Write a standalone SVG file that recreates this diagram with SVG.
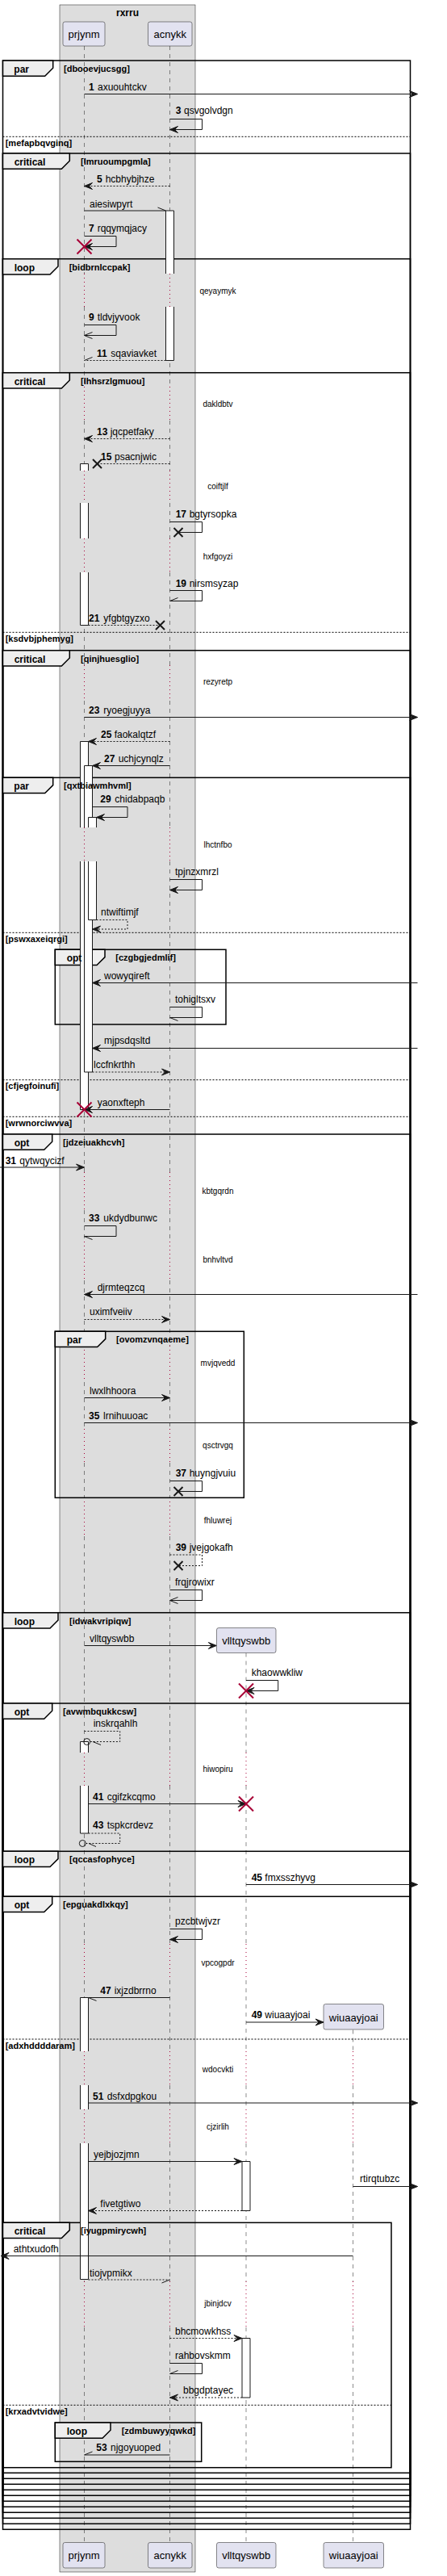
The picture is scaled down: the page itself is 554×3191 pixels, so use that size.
<svg xmlns="http://www.w3.org/2000/svg" width="554" height="3191" viewBox="0 0 554 3191">
<defs>
<style>
.t{font-family:"Liberation Sans",Arial,sans-serif;fill:#000}
.m{font-size:12px}
.b{font-weight:bold}
.g{font-size:11px;font-weight:bold}
.fl{font-size:12px;font-weight:bold}
.d{font-size:10px}
.p{font-size:13px}
.ll{fill:none;stroke:#181818;stroke-width:0.5;stroke-dasharray:5,5}
.dl{fill:none;stroke:#A80036;stroke-width:1;stroke-dasharray:1,4}
.fr{fill:none;stroke:#000;stroke-width:1.5}
.tab{fill:#EEEEEE;stroke:#000;stroke-width:1.5}
.sep{stroke:#000;stroke-width:1;stroke-dasharray:2,2}
.af{fill:#FFFFFF;stroke:none}
.as{fill:none;stroke:#181818;stroke-width:1}
.ln{fill:none;stroke:#181818;stroke-width:1}
.ds{stroke-dasharray:2,2}
.f{marker-end:url(#af)}
.o{marker-end:url(#ao)}
.ha{marker-end:url(#ha)}
.hb{marker-end:url(#hb)}
.xr{stroke:#A80036;stroke-width:2;fill:none}
.xk{stroke:#181818;stroke-width:2;fill:none}
.part{fill:#E2E2F0;stroke:#181818;stroke-width:0.5}
</style>
<marker id="af" markerWidth="12" markerHeight="10" refX="10" refY="4" orient="auto" markerUnits="userSpaceOnUse" overflow="visible"><path d="M0,0 L10,4 L0,8 L4,4 Z" fill="#181818" stroke="#181818" stroke-width="1"/></marker>
<marker id="ao" markerWidth="12" markerHeight="10" refX="10" refY="4" orient="auto" markerUnits="userSpaceOnUse" overflow="visible"><path d="M0,0 L10,4 L0,8" fill="none" stroke="#181818" stroke-width="1"/></marker>
<marker id="ha" markerWidth="12" markerHeight="10" refX="10" refY="4" orient="auto" markerUnits="userSpaceOnUse" overflow="visible"><path d="M0,0 L10,4" fill="none" stroke="#181818" stroke-width="1"/></marker>
<marker id="hb" markerWidth="12" markerHeight="10" refX="10" refY="4" orient="auto" markerUnits="userSpaceOnUse" overflow="visible"><path d="M0,8 L10,4" fill="none" stroke="#181818" stroke-width="1"/></marker>
</defs>
<rect width="554" height="3191" fill="#FFFFFF"/>
<g id="box-rxrru">
<rect x="74" y="6" width="168" height="3180" fill="#DDDDDD" stroke="#181818" stroke-width="0.5"/>
<text class="t fl" x="158" y="20" text-anchor="middle">rxrru</text>
</g>
<g id="lifelines">
<path class="ll" d="M104.5,57 V339 M104.5,380 V479 M104.5,521 V583 M104.5,623 V667 M104.5,709 V824 M104.5,868 V1025 M104.5,1067 V1452 M104.5,1499 V1538 M104.5,1586 V1667 M104.5,1712 V1770 M104.5,1812 V1855 M104.5,1903 V2171 M104.5,2212 V2408 M104.5,2453 V2541 M104.5,2583 V2613 M104.5,2655 V2826 M104.5,2883 V3149.5"/>
<path class="dl" d="M104.5,339 V380 M104.5,479 V521 M104.5,583 V623 M104.5,667 V709 M104.5,824 V868 M104.5,1025 V1067 M104.5,1452 V1499 M104.5,1538 V1586 M104.5,1667 V1712 M104.5,1770 V1812 M104.5,1855 V1903 M104.5,2171 V2212 M104.5,2408 V2453 M104.5,2541 V2583 M104.5,2613 V2655 M104.5,2826 V2883"/>
<path class="ll" d="M210.5,57 V339 M210.5,380 V479 M210.5,521 V583 M210.5,623 V667 M210.5,709 V824 M210.5,868 V1025 M210.5,1067 V1452 M210.5,1499 V1538 M210.5,1586 V1667 M210.5,1712 V1770 M210.5,1812 V1855 M210.5,1903 V2171 M210.5,2212 V2408 M210.5,2453 V2541 M210.5,2583 V2613 M210.5,2655 V2826 M210.5,2883 V3149.5"/>
<path class="dl" d="M210.5,339 V380 M210.5,479 V521 M210.5,583 V623 M210.5,667 V709 M210.5,824 V868 M210.5,1025 V1067 M210.5,1452 V1499 M210.5,1538 V1586 M210.5,1667 V1712 M210.5,1770 V1812 M210.5,1855 V1903 M210.5,2171 V2212 M210.5,2408 V2453 M210.5,2541 V2583 M210.5,2613 V2655 M210.5,2826 V2883"/>
<path class="ll" d="M305,2047.5 V2171 M305,2212 V2408 M305,2453 V2541 M305,2583 V2613 M305,2655 V2826 M305,2883 V3149.5"/>
<path class="dl" d="M305,2171 V2212 M305,2408 V2453 M305,2541 V2583 M305,2613 V2655 M305,2826 V2883"/>
<path class="ll" d="M437.5,2514.5 V2541 M437.5,2583 V2613 M437.5,2655 V2826 M437.5,2883 V3149.5"/>
<path class="dl" d="M437.5,2541 V2583 M437.5,2613 V2655 M437.5,2826 V2883"/>
</g>
<g id="frames">
<g id="frame-par-dbooevjucsgg">
<rect class="fr" x="3.5" y="75" width="505" height="3058.3"/>
<polygon class="tab" points="3.5,75 65.7,75 65.7,84.3 55.7,94.3 3.5,94.3"/>
<line class="sep" x1="3.5" y1="169.3" x2="508.5" y2="169.3"/>
</g>
<g id="frame-critical-lmruoumpgmla">
<rect class="fr" x="3.5" y="190" width="505" height="2936.3"/>
<polygon class="tab" points="3.5,190 86.3,190 86.3,199.3 76.3,209.3 3.5,209.3"/>
</g>
<g id="frame-loop-bidbrnlccpak">
<rect class="fr" x="3.5" y="320.7" width="505" height="2798.6"/>
<polygon class="tab" points="3.5,320.7 72,320.7 72,330 62,340 3.5,340"/>
</g>
<g id="frame-critical-lhhsrzlgmuou">
<rect class="fr" x="3.5" y="461.7" width="505" height="2650.6"/>
<polygon class="tab" points="3.5,461.7 86.3,461.7 86.3,471 76.3,481 3.5,481"/>
<line class="sep" x1="3.5" y1="783.3" x2="508.5" y2="783.3"/>
</g>
<g id="frame-critical-qinjhuesglio">
<rect class="fr" x="3.5" y="805.7" width="505" height="2299.6"/>
<polygon class="tab" points="3.5,805.7 86.3,805.7 86.3,815 76.3,825 3.5,825"/>
</g>
<g id="frame-par-qxtbiawmhvml">
<rect class="fr" x="3.5" y="963.3" width="505" height="2135"/>
<polygon class="tab" points="3.5,963.3 65.7,963.3 65.7,972.6 55.7,982.6 3.5,982.6"/>
<line class="sep" x1="3.5" y1="1155.3" x2="508.5" y2="1155.3"/>
<line class="sep" x1="3.5" y1="1337.7" x2="508.5" y2="1337.7"/>
<line class="sep" x1="3.5" y1="1383.3" x2="508.5" y2="1383.3"/>
</g>
<g id="frame-opt-czgbgjedmlif">
<rect class="fr" x="68.3" y="1176.3" width="211.7" height="92.7"/>
<polygon class="tab" points="68.3,1176.3 130,1176.3 130,1185.6 120,1195.6 68.3,1195.6"/>
</g>
<g id="frame-opt-jdzeiuakhcvh">
<rect class="fr" x="3.5" y="1405" width="505" height="1686.3"/>
<polygon class="tab" points="3.5,1405 64.7,1405 64.7,1414.3 54.7,1424.3 3.5,1424.3"/>
</g>
<g id="frame-par-ovomzvnqaeme">
<rect class="fr" x="68.3" y="1649.3" width="234" height="206"/>
<polygon class="tab" points="68.3,1649.3 130.7,1649.3 130.7,1658.6 120.7,1668.6 68.3,1668.6"/>
</g>
<g id="frame-loop-idwakvripiqw">
<rect class="fr" x="3.5" y="1997.7" width="505" height="1086.6"/>
<polygon class="tab" points="3.5,1997.7 72,1997.7 72,2007 62,2017 3.5,2017"/>
</g>
<g id="frame-opt-avwmbqukkcsw">
<rect class="fr" x="3.5" y="2110" width="505" height="967.3"/>
<polygon class="tab" points="3.5,2110 64.7,2110 64.7,2119.3 54.7,2129.3 3.5,2129.3"/>
</g>
<g id="frame-loop-qccasfophyce">
<rect class="fr" x="3.5" y="2293.3" width="505" height="777"/>
<polygon class="tab" points="3.5,2293.3 72,2293.3 72,2302.6 62,2312.6 3.5,2312.6"/>
</g>
<g id="frame-opt-epguakdlxkqy">
<rect class="fr" x="3.5" y="2349.3" width="505" height="714"/>
<polygon class="tab" points="3.5,2349.3 64.7,2349.3 64.7,2358.6 54.7,2368.6 3.5,2368.6"/>
<line class="sep" x1="3.5" y1="2526" x2="508.5" y2="2526"/>
</g>
<g id="frame-critical-iyugpmirycwh">
<rect class="fr" x="3.5" y="2753.3" width="481.5" height="303.4"/>
<polygon class="tab" points="3.5,2753.3 86.3,2753.3 86.3,2762.6 76.3,2772.6 3.5,2772.6"/>
<line class="sep" x1="3.5" y1="2979.3" x2="485" y2="2979.3"/>
</g>
<g id="frame-loop-zdmbuwyyqwkd">
<rect class="fr" x="68.3" y="3001" width="181.4" height="48.3"/>
<polygon class="tab" points="68.3,3001 137,3001 137,3010.3 127,3020.3 68.3,3020.3"/>
</g>
</g>
<g id="activations">
<rect class="af" x="205.5" y="261" width="10" height="78"/><path class="as" d="M205.5,339 V261 H215.5 V339"/>
<rect class="af" x="205.5" y="380" width="10" height="66.5"/><path class="as" d="M205.5,380 V446.5 H215.5 V380"/>
<rect class="af" x="99.5" y="574.5" width="10" height="8.5"/><path class="as" d="M99.5,583 V574.5 H109.5 V583"/>
<rect class="af" x="99.5" y="623" width="10" height="44"/><path class="as" d="M99.5,623 V667 M109.5,623 V667"/>
<rect class="af" x="99.5" y="709" width="10" height="65.5"/><path class="as" d="M99.5,709 V774.5 H109.5 V709"/>
<rect class="af" x="99.5" y="918.5" width="10" height="106.5"/><path class="as" d="M99.5,1025 V918.5 H109.5 V1025"/>
<rect class="af" x="99.5" y="1067" width="10" height="307.5"/><path class="as" d="M99.5,1067 V1374.5 H109.5 V1067"/>
<rect class="af" x="104.5" y="948.5" width="10" height="76.5"/><path class="as" d="M104.5,1025 V948.5 H114.5 V1025"/>
<rect class="af" x="104.5" y="1067" width="10" height="261"/><path class="as" d="M104.5,1067 V1328 H114.5 V1067"/>
<rect class="af" x="109.5" y="1012.5" width="10" height="12.5"/><path class="as" d="M109.5,1025 V1012.5 H119.5 V1025"/>
<rect class="af" x="109.5" y="1067" width="10" height="72.5"/><path class="as" d="M109.5,1067 V1139.5 H119.5 V1067"/>
<rect class="af" x="99.5" y="2157.5" width="10" height="13.5"/><path class="as" d="M99.5,2171 V2157.5 H109.5 V2171"/>
<rect class="af" x="99.5" y="2212" width="10" height="59"/><path class="as" d="M99.5,2212 V2271 H109.5 V2212"/>
<rect class="af" x="99.5" y="2474.5" width="10" height="66.5"/><path class="as" d="M99.5,2541 V2474.5 H109.5 V2541"/>
<rect class="af" x="99.5" y="2583" width="10" height="30"/><path class="as" d="M99.5,2583 V2613 M109.5,2583 V2613"/>
<rect class="af" x="99.5" y="2655" width="10" height="168.5"/><path class="as" d="M99.5,2655 V2823.5 H109.5 V2655"/>
<rect class="af" x="300" y="2677.5" width="10" height="61"/><path class="as" d="M300,2677.5 H310 V2738.5 H300 Z"/>
<rect class="af" x="300" y="2896.5" width="10" height="73.5"/><path class="as" d="M300,2896.5 H310 V2970 H300 Z"/>
</g>
<g id="frame-labels">
<text class="t fl" x="17.3" y="90">par</text><text class="t g" x="79" y="89">[dbooevjucsgg]</text>
<text class="t g" x="6.7" y="180.8">[mefapbqvginq]</text>
<text class="t fl" x="17.7" y="205">critical</text><text class="t g" x="100" y="204">[lmruoumpgmla]</text>
<text class="t fl" x="17.7" y="335.7">loop</text><text class="t g" x="85.7" y="334.7">[bidbrnlccpak]</text>
<text class="t fl" x="17.7" y="476.7">critical</text><text class="t g" x="100" y="475.7">[lhhsrzlgmuou]</text>
<text class="t g" x="6.7" y="794.8">[ksdvbjphemyg]</text>
<text class="t fl" x="17.7" y="820.7">critical</text><text class="t g" x="100" y="819.7">[qinjhuesglio]</text>
<text class="t fl" x="17.3" y="978.3">par</text><text class="t g" x="79" y="977.3">[qxtbiawmhvml]</text>
<text class="t g" x="6.7" y="1166.8">[pswxaxeiqrgi]</text>
<text class="t fl" x="82.7" y="1191.3">opt</text><text class="t g" x="143.3" y="1190.3">[czgbgjedmlif]</text>
<text class="t g" x="6.7" y="1349.2">[cfjegfoinufi]</text>
<text class="t g" x="6.7" y="1394.8">[wrwnorciwvva]</text>
<text class="t fl" x="17.7" y="1420">opt</text><text class="t g" x="78" y="1419">[jdzeiuakhcvh]</text>
<text class="t fl" x="82.7" y="1664.3">par</text><text class="t g" x="144" y="1663.3">[ovomzvnqaeme]</text>
<text class="t fl" x="17.7" y="2012.7">loop</text><text class="t g" x="86" y="2011.7">[idwakvripiqw]</text>
<text class="t fl" x="17.7" y="2125">opt</text><text class="t g" x="78" y="2124">[avwmbqukkcsw]</text>
<text class="t fl" x="17.7" y="2308.3">loop</text><text class="t g" x="86" y="2307.3">[qccasfophyce]</text>
<text class="t fl" x="17.7" y="2364.3">opt</text><text class="t g" x="78" y="2363.3">[epguakdlxkqy]</text>
<text class="t g" x="6.7" y="2537.5">[adxhddddaram]</text>
<text class="t fl" x="17.7" y="2768.3">critical</text><text class="t g" x="100" y="2767.3">[iyugpmirycwh]</text>
<text class="t g" x="6.7" y="2990.8">[krxadvtvidwe]</text>
<text class="t fl" x="82.7" y="3016">loop</text><text class="t g" x="150.7" y="3015">[zdmbuwyyqwkd]</text>
</g>
<g id="connectors">
<g><line class="ln f" x1="104.5" y1="116.5" x2="517.5" y2="116.5"/><text class="t m b" x="110" y="112">1</text><text class="t m" x="121" y="112">axuouhtckv</text></g>
<g><polyline class="ln f" points="210.5,147.5 250.5,147.5 250.5,160.5 210.5,160.5"/><text class="t m b" x="217.7" y="141">3</text><text class="t m" x="228" y="141">qsvgolvdgn</text></g>
<g><line class="ln ds f" x1="210.5" y1="230.5" x2="104.5" y2="230.5"/><text class="t m b" x="120" y="226">5</text><text class="t m" x="130.7" y="226">hcbhybjhze</text></g>
<g><line class="ln ha" x1="104.5" y1="261" x2="205.5" y2="261"/><text class="t m" x="111" y="256.5">aiesiwpyrt</text></g>
<g><polyline class="ln f" points="104.5,292.5 144,292.5 144,305.5 104.5,305.5"/><path class="xr" d="M95.5,296.5 L113.5,314.5 M113.5,296.5 L95.5,314.5"/><text class="t m b" x="110" y="287">7</text><text class="t m" x="120.7" y="287">rqqymqjacy</text></g>
<g><polyline class="ln o" points="104.5,402.5 144,402.5 144,415.5 104.5,415.5"/><text class="t m b" x="110" y="397">9</text><text class="t m" x="120.7" y="397">tldvjyvook</text></g>
<g><line class="ln ds hb" x1="205.5" y1="446.5" x2="104.5" y2="446.5"/><text class="t m b" x="120" y="441.5">11</text><text class="t m" x="137.3" y="441.5">sqaviavket</text></g>
<g><line class="ln ds f" x1="210.5" y1="543.5" x2="104.5" y2="543.5"/><text class="t m b" x="120" y="539">13</text><text class="t m" x="136.7" y="539">jqcpetfaky</text></g>
<g><line class="ln ds" x1="210.5" y1="574.5" x2="120.5" y2="574.5"/><path class="xk" d="M115,569 L126,580 M126,569 L115,580"/><text class="t m b" x="125" y="569.5">15</text><text class="t m" x="142" y="569.5">psacnjwic</text></g>
<g><polyline class="ln" points="210.5,646.5 250.5,646.5 250.5,659.5 221,659.5"/><path class="xk" d="M215.5,654 L226.5,665 M226.5,654 L215.5,665"/><text class="t m b" x="217.7" y="641">17</text><text class="t m" x="234.7" y="641">bgtyrsopka</text></g>
<g><polyline class="ln hb" points="210.5,731.5 250.5,731.5 250.5,744.5 210.5,744.5"/><text class="t m b" x="217.7" y="726.5">19</text><text class="t m" x="234.7" y="726.5">nirsmsyzap</text></g>
<g><line class="ln ds" x1="109.5" y1="774.5" x2="198.5" y2="774.5"/><path class="xk" d="M193,769 L204,780 M204,769 L193,780"/><text class="t m b" x="110" y="769.5">21</text><text class="t m" x="128.3" y="769.5">yfgbtgyzxo</text></g>
<g><line class="ln f" x1="104.5" y1="888.5" x2="517.5" y2="888.5"/><text class="t m b" x="110" y="883.5">23</text><text class="t m" x="128.3" y="883.5">ryoegjuyya</text></g>
<g><line class="ln ds f" x1="210.5" y1="918.5" x2="109.5" y2="918.5"/><text class="t m b" x="125" y="913.5">25</text><text class="t m" x="141.7" y="913.5">faokalqtzf</text></g>
<g><line class="ln f" x1="210.5" y1="948.5" x2="114.5" y2="948.5"/><text class="t m b" x="129" y="943.5">27</text><text class="t m" x="146.7" y="943.5">uchjcynqlz</text></g>
<g><polyline class="ln f" points="114.5,999.5 158,999.5 158,1012.5 119.5,1012.5"/><text class="t m b" x="124.3" y="994">29</text><text class="t m" x="142.3" y="994">chidabpaqb</text></g>
<g><polyline class="ln f" points="210.5,1089.5 250.5,1089.5 250.5,1102.5 210.5,1102.5"/><text class="t m" x="217" y="1084">tpjnzxmrzl</text></g>
<g><polyline class="ln ds f" points="119.5,1139.5 158,1139.5 158,1151 114.5,1151"/><text class="t m" x="125" y="1134">ntwiftimjf</text></g>
<g><line class="ln f" x1="517.5" y1="1217.5" x2="114.5" y2="1217.5"/><text class="t m" x="129" y="1213">wowyqireft</text></g>
<g><polyline class="ln ha" points="210.5,1247.5 250.5,1247.5 250.5,1260.5 210.5,1260.5"/><text class="t m" x="217" y="1242">tohigltsxv</text></g>
<g><line class="ln f" x1="517.5" y1="1298.5" x2="114.5" y2="1298.5"/><text class="t m" x="129" y="1293">mjpsdqsltd</text></g>
<g><line class="ln ds f" x1="114.5" y1="1328" x2="210.5" y2="1328"/><text class="t m" x="116" y="1323">lccfnkrthh</text></g>
<g><line class="ln f" x1="210.5" y1="1374.5" x2="104.5" y2="1374.5"/><path class="xr" d="M95.5,1365.5 L113.5,1383.5 M113.5,1365.5 L95.5,1383.5"/><text class="t m" x="120.7" y="1369.5">yaonxfteph</text></g>
<g><line class="ln f" x1="0" y1="1446" x2="104.5" y2="1446"/><text class="t m b" x="6.7" y="1441.5">31</text><text class="t m" x="24.3" y="1441.5">qytwqycizf</text></g>
<g><polyline class="ln ha" points="104.5,1518.5 144,1518.5 144,1531.5 104.5,1531.5"/><text class="t m b" x="110" y="1513">33</text><text class="t m" x="128.3" y="1513">ukdydbunwc</text></g>
<g><line class="ln f" x1="517.5" y1="1603.5" x2="104.5" y2="1603.5"/><text class="t m" x="120.7" y="1599">djrmteqzcq</text></g>
<g><line class="ln ds f" x1="104.5" y1="1634.5" x2="210.5" y2="1634.5"/><text class="t m" x="111" y="1629">uximfveiiv</text></g>
<g><line class="ln f" x1="104.5" y1="1731.5" x2="210.5" y2="1731.5"/><text class="t m" x="111" y="1726.5">lwxlhhoora</text></g>
<g><line class="ln f" x1="104.5" y1="1762.5" x2="517.5" y2="1762.5"/><text class="t m b" x="110" y="1757.5">35</text><text class="t m" x="128" y="1757.5">lrnihuuoac</text></g>
<g><polyline class="ln" points="210.5,1834.5 250.5,1834.5 250.5,1847.5 221,1847.5"/><path class="xk" d="M215.5,1842 L226.5,1853 M226.5,1842 L215.5,1853"/><text class="t m b" x="217.7" y="1829">37</text><text class="t m" x="234.7" y="1829">huyngjvuiu</text></g>
<g><polyline class="ln ds" points="210.5,1926 250.5,1926 250.5,1939.5 221,1939.5"/><path class="xk" d="M215.5,1934 L226.5,1945 M226.5,1934 L215.5,1945"/><text class="t m b" x="217.7" y="1920.7">39</text><text class="t m" x="234.7" y="1920.7">jvejgokafh</text></g>
<g><polyline class="ln o" points="210.5,1969.5 250.5,1969.5 250.5,1982.5 210.5,1982.5"/><text class="t m" x="217" y="1964">frqjrowixr</text></g>
<g><line class="ln f" x1="104.5" y1="2038.5" x2="268.3" y2="2038.5"/><text class="t m" x="111" y="2033.5">vlltqyswbb</text></g>
<g><polyline class="ln f" points="305,2081.5 344.7,2081.5 344.7,2094.5 305,2094.5"/><path class="xr" d="M296,2085.5 L314,2103.5 M314,2085.5 L296,2103.5"/><text class="t m" x="311.7" y="2076">khaowwkliw</text></g>
<g><polyline class="ln ds" points="104.5,2144.5 148.7,2144.5 148.7,2157.5 111.7,2157.5"/><circle cx="107.7" cy="2157.5" r="4" fill="none" stroke="#181818" stroke-width="1"/><line class="ln" x1="115" y1="2157.5" x2="125" y2="2161.5"/><text class="t m" x="115.7" y="2139">inskrqahlh</text></g>
<g><line class="ln f" x1="109.5" y1="2234.5" x2="305" y2="2234.5"/><path class="xr" d="M296,2225.5 L314,2243.5 M314,2225.5 L296,2243.5"/><text class="t m b" x="115" y="2230">41</text><text class="t m" x="132.7" y="2230">cgifzkcqmo</text></g>
<g><polyline class="ln ds" points="109.5,2271 148.7,2271 148.7,2283.5 106.3,2283.5"/><circle cx="102.3" cy="2283.5" r="4" fill="none" stroke="#181818" stroke-width="1"/><line class="ln" x1="110" y1="2283.5" x2="119" y2="2287.5"/><text class="t m b" x="115" y="2265">43</text><text class="t m" x="132.7" y="2265">tspkcrdevz</text></g>
<g><line class="ln f" x1="305" y1="2334.5" x2="517.5" y2="2334.5"/><text class="t m b" x="311.7" y="2329.5">45</text><text class="t m" x="328.3" y="2329.5">fmxsszhyvg</text></g>
<g><polyline class="ln f" points="210.5,2389.5 250.5,2389.5 250.5,2402.5 210.5,2402.5"/><text class="t m" x="217" y="2384">pzcbtwjvzr</text></g>
<g><line class="ln ha" x1="210.5" y1="2474.5" x2="109.5" y2="2474.5"/><text class="t m b" x="124.3" y="2469.5">47</text><text class="t m" x="141.7" y="2469.5">ixjzdbrrno</text></g>
<g><line class="ln f" x1="305" y1="2505" x2="401" y2="2505"/><text class="t m b" x="311.7" y="2500">49</text><text class="t m" x="328.3" y="2500">wiuaayjoai</text></g>
<g><line class="ln f" x1="109.5" y1="2605" x2="517.5" y2="2605"/><text class="t m b" x="115" y="2600.5">51</text><text class="t m" x="132.7" y="2600.5">dsfxdpgkou</text></g>
<g><line class="ln f" x1="109.5" y1="2677.5" x2="300" y2="2677.5"/><text class="t m" x="116" y="2672.5">yejbjozjmn</text></g>
<g><line class="ln f" x1="437.5" y1="2708.5" x2="517.5" y2="2708.5"/><text class="t m" x="446" y="2703">rtirqtubzc</text></g>
<g><line class="ln ds f" x1="300" y1="2738.5" x2="109.5" y2="2738.5"/><text class="t m" x="124.3" y="2733.5">fivetgtiwo</text></g>
<g><line class="ln f" x1="437.5" y1="2794.5" x2="1" y2="2794.5"/><text class="t m" x="16.7" y="2789.5">athtxudofh</text></g>
<g><line class="ln ds hb" x1="109.5" y1="2824" x2="210.5" y2="2824"/><text class="t m" x="111" y="2819.5">tiojvpmikx</text></g>
<g><line class="ln ds f" x1="210.5" y1="2896.5" x2="300" y2="2896.5"/><text class="t m" x="217" y="2892">bhcmowkhss</text></g>
<g><polyline class="ln hb" points="210.5,2927.5 250.5,2927.5 250.5,2940.5 210.5,2940.5"/><text class="t m" x="217" y="2922">rahbovskmm</text></g>
<g><line class="ln ds f" x1="300" y1="2970" x2="210.5" y2="2970"/><text class="t m" x="227" y="2965">bbgdptayec</text></g>
<g><line class="ln hb" x1="210.5" y1="3041" x2="104.5" y2="3041"/><text class="t m b" x="119.3" y="3036">53</text><text class="t m" x="137" y="3036">njgoyuoped</text></g>
</g>
<g id="delays">
<text class="t d" x="270" y="364" text-anchor="middle">qeyaymyk</text>
<text class="t d" x="270" y="504.3" text-anchor="middle">dakldbtv</text>
<text class="t d" x="270" y="606" text-anchor="middle">coiftjlf</text>
<text class="t d" x="270" y="692.7" text-anchor="middle">hxfgoyzi</text>
<text class="t d" x="270" y="848.3" text-anchor="middle">rezyretp</text>
<text class="t d" x="270" y="1050" text-anchor="middle">lhctnfbo</text>
<text class="t d" x="270" y="1479.3" text-anchor="middle">kbtgqrdn</text>
<text class="t d" x="270" y="1564.3" text-anchor="middle">bnhvltvd</text>
<text class="t d" x="270" y="1691.7" text-anchor="middle">mvjqvedd</text>
<text class="t d" x="270" y="1794" text-anchor="middle">qsctrvgq</text>
<text class="t d" x="270" y="1887.3" text-anchor="middle">fhluwrej</text>
<text class="t d" x="270" y="2195" text-anchor="middle">hiwopiru</text>
<text class="t d" x="270" y="2435" text-anchor="middle">vpcogpdr</text>
<text class="t d" x="270" y="2566.7" text-anchor="middle">wdocvkti</text>
<text class="t d" x="270" y="2638.3" text-anchor="middle">cjzirlih</text>
<text class="t d" x="270" y="2856.7" text-anchor="middle">jbinjdcv</text>
</g>
<g id="node-prjynm">
<rect class="part" x="78" y="27" width="52" height="30" rx="2.5"/>
<text class="t p" x="104" y="47" text-anchor="middle">prjynm</text>
<rect class="part" x="78" y="3149.5" width="52" height="31.5" rx="2.5"/>
<text class="t p" x="104" y="3170" text-anchor="middle">prjynm</text>
</g>
<g id="node-acnykk">
<rect class="part" x="183.5" y="27" width="54.5" height="30" rx="2.5"/>
<text class="t p" x="210.7" y="47" text-anchor="middle">acnykk</text>
<rect class="part" x="183.5" y="3149.5" width="54.5" height="31.5" rx="2.5"/>
<text class="t p" x="210.7" y="3170" text-anchor="middle">acnykk</text>
</g>
<g id="node-vlltqyswbb">
<rect class="part" x="268.5" y="2016.5" width="73.5" height="31" rx="2.5"/>
<text class="t p" x="305.2" y="2037" text-anchor="middle">vlltqyswbb</text>
<rect class="part" x="268.5" y="3149.5" width="73.5" height="31.5" rx="2.5"/>
<text class="t p" x="305.2" y="3170" text-anchor="middle">vlltqyswbb</text>
</g>
<g id="node-wiuaayjoai">
<rect class="part" x="401" y="2482.5" width="74.5" height="31.5" rx="2.5"/>
<text class="t p" x="438.2" y="2503.5" text-anchor="middle">wiuaayjoai</text>
<rect class="part" x="401" y="3149.5" width="74.5" height="31.5" rx="2.5"/>
<text class="t p" x="438.2" y="3170" text-anchor="middle">wiuaayjoai</text>
</g>
</svg>
